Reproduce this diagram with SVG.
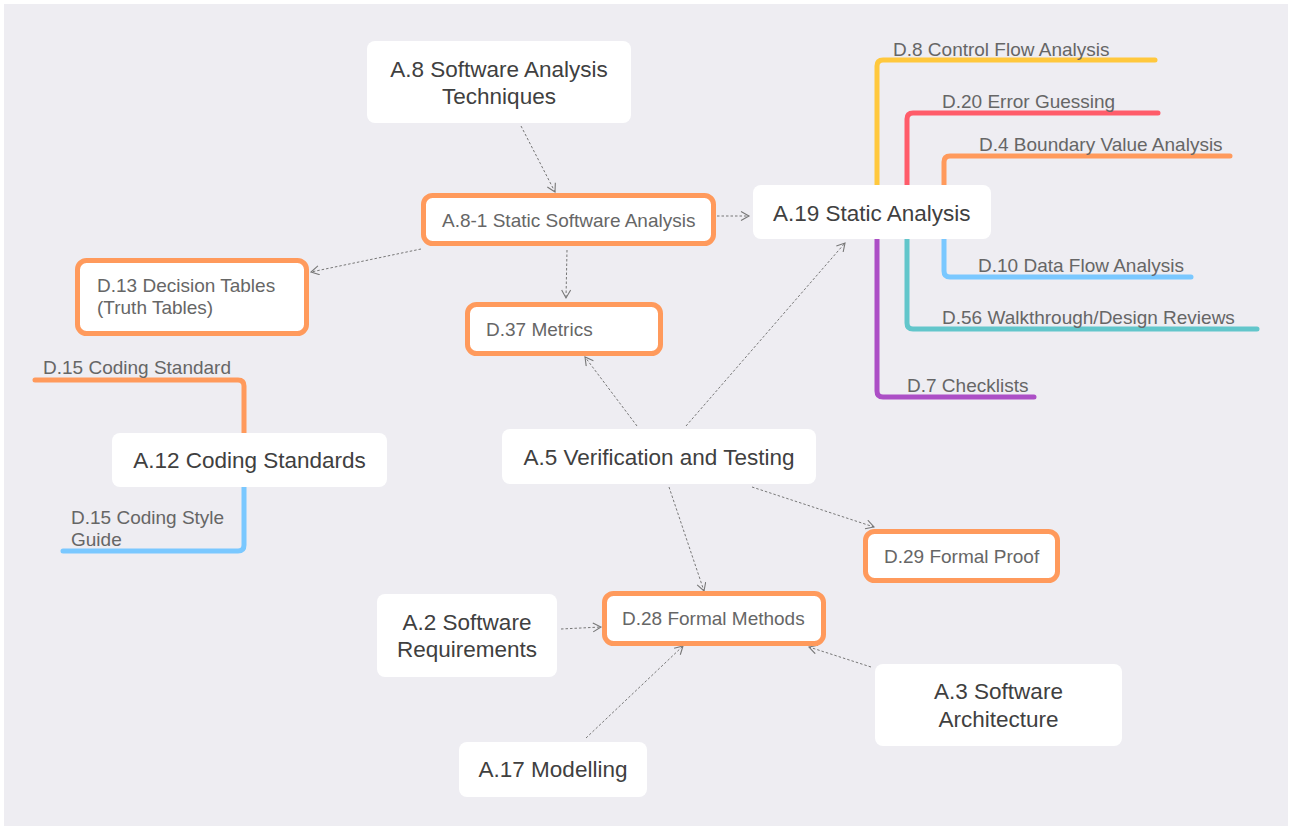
<svg xmlns="http://www.w3.org/2000/svg" width="1290" height="828" viewBox="0 0 1290 828">
<style>
  .bg { fill: #EEEDF2; }
  .wnode { fill: #FFFFFF; }
  .onode { fill: #FFFFFF; stroke: #FF9A5C; stroke-width: 5; }
  .at { font-family: "Liberation Sans", Arial, Helvetica, sans-serif; font-size: 22.5px; fill: #404040; }
  .dt { font-family: "Liberation Sans", Arial, Helvetica, sans-serif; font-size: 19px; fill: #666666; }
  .conn { fill: none; stroke: #777777; stroke-width: 1; stroke-dasharray: 2.5 2; }
  .br { fill: none; stroke-width: 5; stroke-linecap: round; stroke-linejoin: round; }
</style>
<defs>
  <marker id="arr" markerUnits="userSpaceOnUse" markerWidth="12" markerHeight="12" refX="9" refY="5" orient="auto">
    <path d="M1,0.5 L9,5 L1,9.5" fill="none" stroke="#777777" stroke-width="1.1"/>
  </marker>
</defs>
<rect class="bg" x="4" y="4" width="1284" height="822"/>

<g id="branches">
  <path class="br" stroke="#FFC83D" d="M877,212 V66 Q877,60 883,60 H1155"/>
  <path class="br" stroke="#FF5C6A" d="M907,212 V119 Q907,113 913,113 H1158"/>
  <path class="br" stroke="#FF9A5C" d="M944,212 V162 Q944,156 950,156 H1230"/>
  <path class="br" stroke="#7AC8FF" d="M944,212 V271 Q944,277 950,277 H1191"/>
  <path class="br" stroke="#62C6CB" d="M907,212 V323 Q907,329 913,329 H1257"/>
  <path class="br" stroke="#AC4FC6" d="M877,212 V391 Q877,397 883,397 H1034"/>
  <path class="br" stroke="#FF9A5C" d="M244,460 V386 Q244,380 238,380 H35"/>
  <path class="br" stroke="#7AC8FF" d="M244,460 V545 Q244,551 238,551 H63"/>
</g>
<g id="branch-labels">
  <text class="dt" x="893" y="56">D.8 Control Flow Analysis</text>
  <text class="dt" x="942" y="108">D.20 Error Guessing</text>
  <text class="dt" x="979" y="151">D.4 Boundary Value Analysis</text>
  <text class="dt" x="978" y="272">D.10 Data Flow Analysis</text>
  <text class="dt" x="942" y="324">D.56 Walkthrough/Design Reviews</text>
  <text class="dt" x="907" y="392">D.7 Checklists</text>
  <text class="dt" x="43" y="374">D.15 Coding Standard</text>
  <text class="dt" x="71" y="524">D.15 Coding Style</text>
  <text class="dt" x="71" y="546">Guide</text>
</g>

<g id="connectors">
  <path class="conn" marker-end="url(#arr)" d="M521,126 L555,192"/>
  <path class="conn" marker-end="url(#arr)" d="M717,216 L749,216"/>
  <path class="conn" marker-end="url(#arr)" d="M567,250 L566,298"/>
  <path class="conn" marker-end="url(#arr)" d="M421,249 L311,272"/>
  <path class="conn" marker-end="url(#arr)" d="M637,426 L585,357"/>
  <path class="conn" marker-end="url(#arr)" d="M686,426 L845,243"/>
  <path class="conn" marker-end="url(#arr)" d="M669,487 L704,591"/>
  <path class="conn" marker-end="url(#arr)" d="M752,487 L874,527"/>
  <path class="conn" marker-end="url(#arr)" d="M561,629 L601,627"/>
  <path class="conn" marker-end="url(#arr)" d="M586,738 L683,646"/>
  <path class="conn" marker-end="url(#arr)" d="M871,667 L809,647"/>
</g>

<g id="a8">
  <rect class="wnode" x="367" y="41" width="264" height="82" rx="8"/>
  <text class="at" x="499" y="77" text-anchor="middle">A.8 Software Analysis</text>
  <text class="at" x="499" y="104" text-anchor="middle">Techniques</text>
</g>
<g id="a8-1">
  <rect class="onode" x="423.5" y="195.5" width="290" height="48" rx="9"/>
  <text class="dt" x="442" y="227">A.8-1 Static Software Analysis</text>
</g>
<g id="a19">
  <rect class="wnode" x="753" y="185" width="238" height="54" rx="8"/>
  <text class="at" x="773" y="221">A.19 Static Analysis</text>
</g>
<g id="d13">
  <rect class="onode" x="77.5" y="260.5" width="229" height="73" rx="9"/>
  <text class="dt" x="97" y="292">D.13 Decision Tables</text>
  <text class="dt" x="97" y="314">(Truth Tables)</text>
</g>
<g id="d37">
  <rect class="onode" x="467.5" y="304.5" width="193" height="49" rx="9"/>
  <text class="dt" x="486" y="336">D.37 Metrics</text>
</g>
<g id="a12">
  <rect class="wnode" x="112" y="433" width="275" height="54" rx="8"/>
  <text class="at" x="249.5" y="468" text-anchor="middle">A.12 Coding Standards</text>
</g>
<g id="a5">
  <rect class="wnode" x="502" y="429" width="314" height="55" rx="8"/>
  <text class="at" x="659" y="465" text-anchor="middle">A.5 Verification and Testing</text>
</g>
<g id="d29">
  <rect class="onode" x="865.5" y="531.5" width="192" height="49" rx="9"/>
  <text class="dt" x="884" y="563">D.29 Formal Proof</text>
</g>
<g id="d28">
  <rect class="onode" x="604.5" y="593.5" width="219" height="50" rx="9"/>
  <text class="dt" x="622" y="625">D.28 Formal Methods</text>
</g>
<g id="a2">
  <rect class="wnode" x="377" y="594" width="180" height="83" rx="8"/>
  <text class="at" x="467" y="630" text-anchor="middle">A.2 Software</text>
  <text class="at" x="467" y="657" text-anchor="middle">Requirements</text>
</g>
<g id="a3">
  <rect class="wnode" x="875" y="664" width="247" height="82" rx="8"/>
  <text class="at" x="998.5" y="699" text-anchor="middle">A.3 Software</text>
  <text class="at" x="998.5" y="727" text-anchor="middle">Architecture</text>
</g>
<g id="a17">
  <rect class="wnode" x="459" y="742" width="188" height="55" rx="8"/>
  <text class="at" x="553" y="777" text-anchor="middle">A.17 Modelling</text>
</g>
</svg>
